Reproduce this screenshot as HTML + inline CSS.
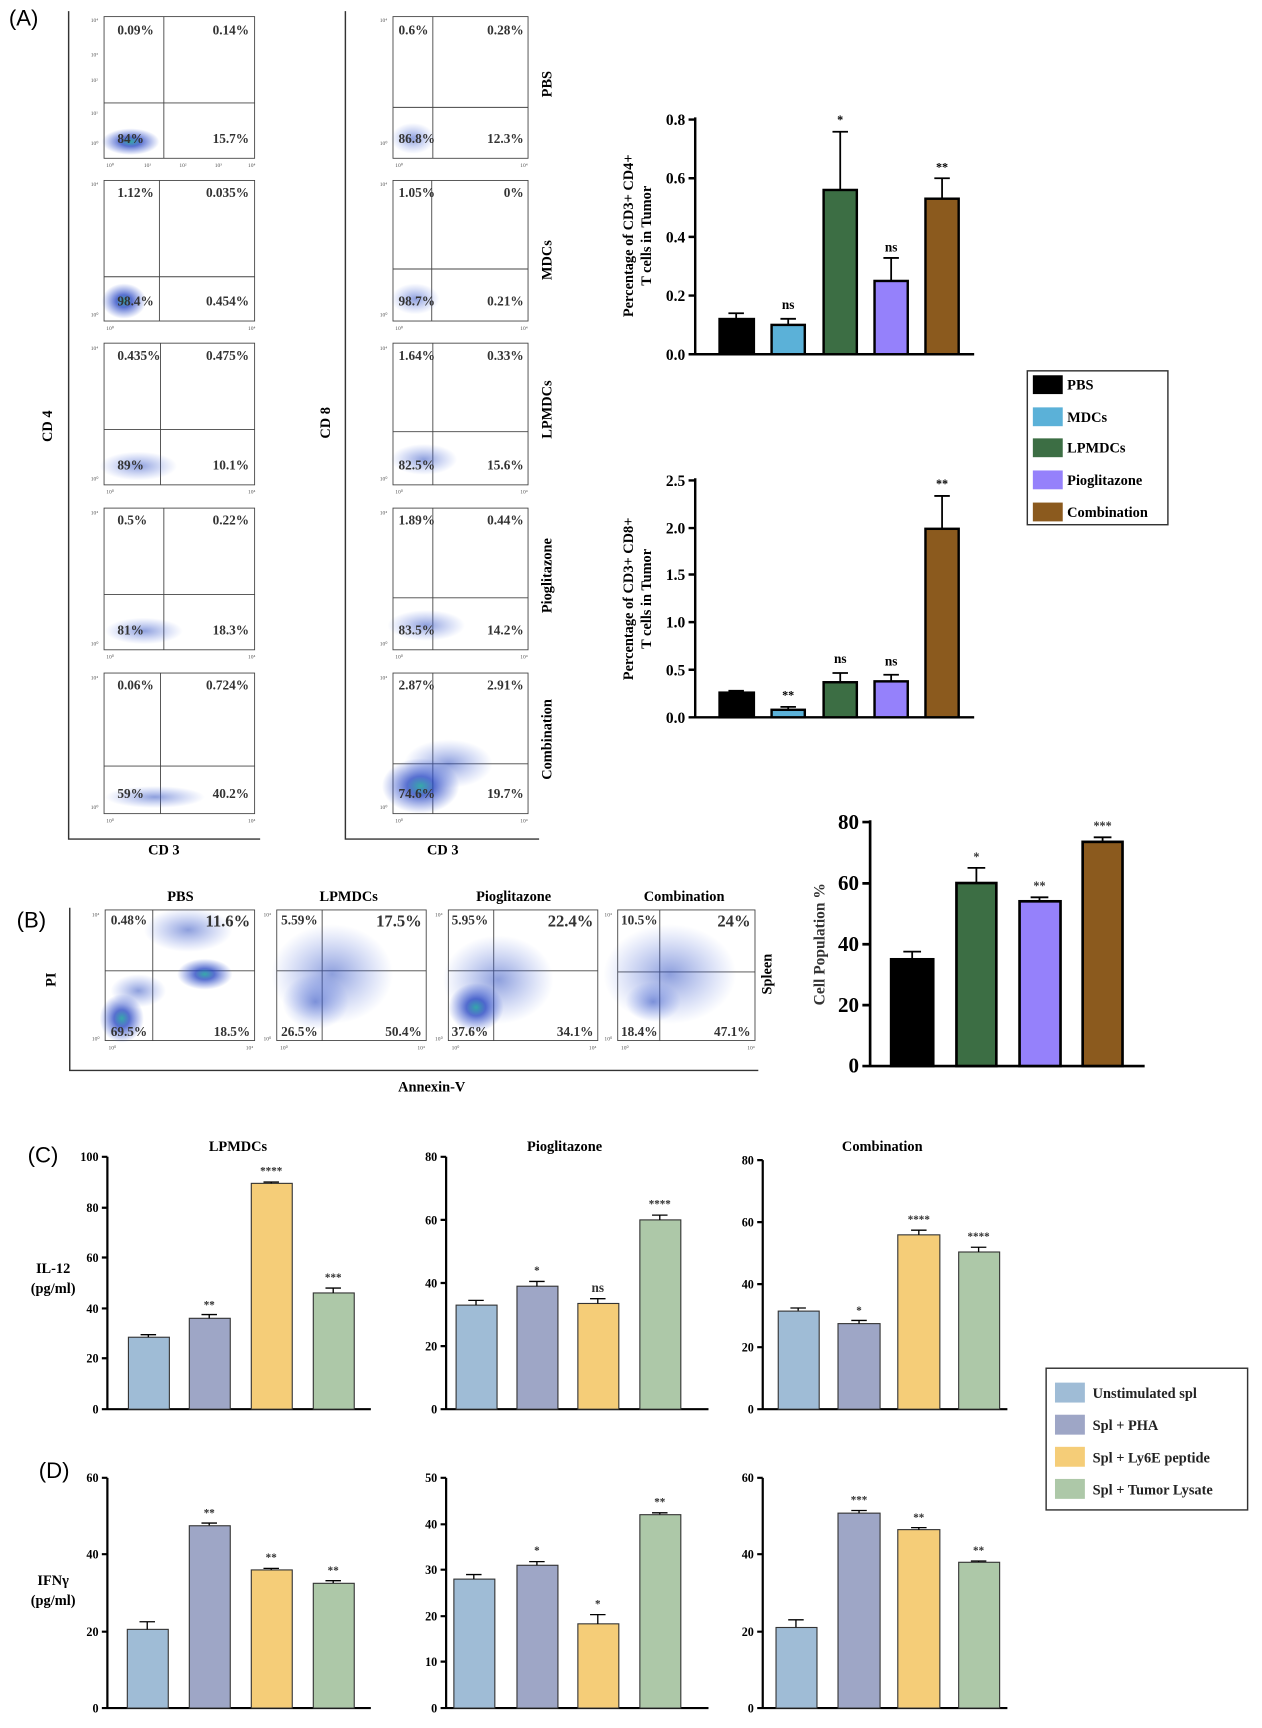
<!DOCTYPE html>
<html><head><meta charset="utf-8"><style>
html,body{margin:0;padding:0;background:#fff;}
svg{display:block;}
.s{font-family:"Liberation Serif",serif;font-weight:bold;}
.a{font-family:"Liberation Sans",sans-serif;}
.q{font-family:"Liberation Serif",serif;font-weight:bold;font-size:12px;fill:#333;}
.t{font-family:"Liberation Serif",serif;font-size:5px;fill:#555;}
</style></head><body>
<svg width="1262" height="1728" viewBox="0 0 1140 1561" preserveAspectRatio="none" xmlns="http://www.w3.org/2000/svg">
<defs>
<radialGradient id="bl"><stop offset="0" stop-color="#20a0a0" stop-opacity="0.9"/><stop offset="0.35" stop-color="#2040c0" stop-opacity="0.75"/><stop offset="1" stop-color="#3050d0" stop-opacity="0"/></radialGradient>
<radialGradient id="bl2"><stop offset="0" stop-color="#3050c0" stop-opacity="0.55"/><stop offset="1" stop-color="#5070e0" stop-opacity="0"/></radialGradient>
</defs>
<rect width="1140" height="1561" fill="#fff"/>
<!-- Panel A -->
<text x="8" y="23" class="a" font-size="20">(A)</text>
<path d="M62 10V758H235M312 10V758H487" stroke="#333" stroke-width="1.3" fill="none"/>
<text class="s" font-size="13" transform="translate(47,385) rotate(-90)" text-anchor="middle">CD 4</text>
<text class="s" font-size="13" transform="translate(298,382) rotate(-90)" text-anchor="middle">CD 8</text>
<text class="s" font-size="13" x="148" y="772" text-anchor="middle">CD 3</text>
<text class="s" font-size="13" x="400" y="772" text-anchor="middle">CD 3</text>
<g class="s" font-size="13" font-weight="bold">
<text transform="translate(498,76) rotate(-90)" text-anchor="middle">PBS</text>
<text transform="translate(498,235) rotate(-90)" text-anchor="middle">MDCs</text>
<text transform="translate(498,370) rotate(-90)" text-anchor="middle">LPMDCs</text>
<text transform="translate(498,520) rotate(-90)" text-anchor="middle">Pioglitazone</text>
<text transform="translate(498,668) rotate(-90)" text-anchor="middle">Combination</text>
</g>
<g fill="none" stroke="#444" stroke-width="0.8">
<rect x="94" y="15" width="136" height="128"/><rect x="94" y="163" width="136" height="127"/><rect x="94" y="310" width="136" height="128"/><rect x="94" y="459" width="136" height="128"/><rect x="94" y="608" width="136" height="127"/>
<rect x="355" y="15" width="122" height="128"/><rect x="355" y="163" width="122" height="127"/><rect x="355" y="310" width="122" height="128"/><rect x="355" y="459" width="122" height="128"/><rect x="355" y="608" width="122" height="127"/>
<path d="M148 15V143M94 93H230M144 163V290M94 250H230M145 310V438M94 388H230M148 459V587M94 537H230M145 608V735M94 692H230"/>
<path d="M391 15V143M355 97H477M390 163V290M355 243H477M391 310V438M355 390H477M391 459V587M355 540H477M391 608V735M355 690H477"/>
<rect x="95" y="822" width="135" height="118"/><rect x="250" y="822" width="135" height="118"/><rect x="405" y="822" width="135" height="118"/><rect x="558" y="822" width="124" height="118"/>
<path d="M138 822V940M95 877H230M291 822V940M250 877H385M446 822V940M405 877H540M596 822V940M558 878H682"/>
</g>
<ellipse cx="118" cy="128" rx="26" ry="12" fill="url(#bl)"/>
<ellipse cx="112" cy="272" rx="20" ry="16" fill="url(#bl)"/>
<ellipse cx="125" cy="421" rx="35" ry="13" fill="url(#bl2)"/>
<ellipse cx="130" cy="570" rx="35" ry="12" fill="url(#bl2)"/>
<ellipse cx="140" cy="720" rx="45" ry="10" fill="url(#bl2)"/>
<ellipse cx="373" cy="125" rx="20" ry="14" fill="url(#bl2)"/>
<ellipse cx="375" cy="270" rx="22" ry="14" fill="url(#bl2)"/>
<ellipse cx="383" cy="415" rx="30" ry="14" fill="url(#bl2)"/>
<ellipse cx="385" cy="565" rx="35" ry="14" fill="url(#bl2)"/>
<ellipse cx="380" cy="710" rx="35" ry="25" fill="url(#bl)"/>
<ellipse cx="405" cy="690" rx="40" ry="22" fill="url(#bl2)"/>
<ellipse cx="110" cy="920" rx="20" ry="22" fill="url(#bl)"/>
<ellipse cx="125" cy="895" rx="25" ry="15" fill="url(#bl2)"/>
<ellipse cx="185" cy="880" rx="25" ry="14" fill="url(#bl)"/>
<ellipse cx="170" cy="840" rx="40" ry="20" fill="url(#bl2)"/>
<ellipse cx="300" cy="880" rx="55" ry="45" fill="url(#bl2)"/>
<ellipse cx="285" cy="905" rx="30" ry="25" fill="url(#bl2)"/>
<ellipse cx="450" cy="885" rx="50" ry="40" fill="url(#bl2)"/>
<ellipse cx="430" cy="910" rx="25" ry="22" fill="url(#bl)"/>
<ellipse cx="605" cy="880" rx="60" ry="45" fill="url(#bl2)"/>
<ellipse cx="590" cy="905" rx="25" ry="18" fill="url(#bl2)"/>
<g class="q">
<text x="106" y="31">0.09%</text><text x="225" y="31" text-anchor="end">0.14%</text><text x="106" y="129">84%</text><text x="225" y="129" text-anchor="end">15.7%</text>
<text x="106" y="178">1.12%</text><text x="225" y="178" text-anchor="end">0.035%</text><text x="106" y="276">98.4%</text><text x="225" y="276" text-anchor="end">0.454%</text>
<text x="106" y="325">0.435%</text><text x="225" y="325" text-anchor="end">0.475%</text><text x="106" y="424">89%</text><text x="225" y="424" text-anchor="end">10.1%</text>
<text x="106" y="474">0.5%</text><text x="225" y="474" text-anchor="end">0.22%</text><text x="106" y="573">81%</text><text x="225" y="573" text-anchor="end">18.3%</text>
<text x="106" y="623">0.06%</text><text x="225" y="623" text-anchor="end">0.724%</text><text x="106" y="721">59%</text><text x="225" y="721" text-anchor="end">40.2%</text>
<text x="360" y="31">0.6%</text><text x="473" y="31" text-anchor="end">0.28%</text><text x="360" y="129">86.8%</text><text x="473" y="129" text-anchor="end">12.3%</text>
<text x="360" y="178">1.05%</text><text x="473" y="178" text-anchor="end">0%</text><text x="360" y="276">98.7%</text><text x="473" y="276" text-anchor="end">0.21%</text>
<text x="360" y="325">1.64%</text><text x="473" y="325" text-anchor="end">0.33%</text><text x="360" y="424">82.5%</text><text x="473" y="424" text-anchor="end">15.6%</text>
<text x="360" y="474">1.89%</text><text x="473" y="474" text-anchor="end">0.44%</text><text x="360" y="573">83.5%</text><text x="473" y="573" text-anchor="end">14.2%</text>
<text x="360" y="623">2.87%</text><text x="473" y="623" text-anchor="end">2.91%</text><text x="360" y="721">74.6%</text><text x="473" y="721" text-anchor="end">19.7%</text>
</g>
<g class="t">
<text x="82" y="20">10⁴</text><text x="82" y="51">10³</text><text x="82" y="74">10²</text><text x="82" y="104">10¹</text><text x="82" y="131">10⁰</text>
<text x="96" y="151">10⁰</text><text x="130" y="151">10¹</text><text x="162" y="151">10²</text><text x="194" y="151">10³</text><text x="224" y="151">10⁴</text>
<text x="343" y="20">10⁴</text><text x="343" y="131">10⁰</text><text x="357" y="151">10⁰</text><text x="470" y="151">10⁴</text>
<text x="82" y="168">10⁴</text><text x="82" y="286">10⁰</text><text x="96" y="298">10⁰</text><text x="224" y="298">10⁴</text>
<text x="82" y="316">10⁴</text><text x="82" y="434">10⁰</text><text x="96" y="446">10⁰</text><text x="224" y="446">10⁴</text>
<text x="82" y="465">10⁴</text><text x="82" y="583">10⁰</text><text x="96" y="595">10⁰</text><text x="224" y="595">10⁴</text>
<text x="82" y="614">10⁴</text><text x="82" y="731">10⁰</text><text x="96" y="743">10⁰</text><text x="224" y="743">10⁴</text>
<text x="343" y="168">10⁴</text><text x="343" y="286">10⁰</text><text x="357" y="298">10⁰</text><text x="470" y="298">10⁴</text>
<text x="343" y="316">10⁴</text><text x="343" y="434">10⁰</text><text x="357" y="446">10⁰</text><text x="470" y="446">10⁴</text>
<text x="343" y="465">10⁴</text><text x="343" y="583">10⁰</text><text x="357" y="595">10⁰</text><text x="470" y="595">10⁴</text>
<text x="343" y="614">10⁴</text><text x="343" y="731">10⁰</text><text x="357" y="743">10⁰</text><text x="470" y="743">10⁴</text>
<text x="83" y="828">10⁴</text><text x="83" y="940">10⁰</text><text x="98" y="948">10⁰</text><text x="222" y="948">10⁴</text>
<text x="238" y="828">10⁴</text><text x="238" y="940">10⁰</text><text x="253" y="948">10⁰</text><text x="377" y="948">10⁴</text>
<text x="393" y="828">10⁴</text><text x="393" y="940">10⁰</text><text x="408" y="948">10⁰</text><text x="532" y="948">10⁴</text>
<text x="546" y="828">10⁴</text><text x="546" y="940">10⁰</text><text x="561" y="948">10⁰</text><text x="675" y="948">10⁴</text>
</g>
<!-- Chart 1 -->
<g stroke="#000" stroke-width="2.2">
<path d="M628 106V320H880M622 320H628M622 267H628M622 214H628M622 161H628M622 108H628" fill="none"/>
<rect x="650" y="288.2" width="31" height="31.8" fill="#000"/>
<rect x="697" y="293.5" width="30" height="26.5" fill="#5bb1d8"/>
<rect x="744" y="171.6" width="30" height="148.4" fill="#3c6e44"/>
<rect x="790" y="253.8" width="30" height="66.2" fill="#9581fb"/>
<rect x="836" y="179.5" width="30" height="140.5" fill="#8b5a1e"/>
<path d="M665 288V283M658 283H672M712 293V288M705 288H719M759 172V119M752 119H766M805 254V233M798 233H812M851 180V161M844 161H858" fill="none" stroke-width="1.6"/>
</g>
<g class="s" font-size="14" text-anchor="end"><text x="619" y="325">0.0</text><text x="619" y="272">0.2</text><text x="619" y="219">0.4</text><text x="619" y="166">0.6</text><text x="619" y="113">0.8</text></g>
<g class="s" font-size="11" text-anchor="middle"><text x="759" y="112">*</text><text x="712" y="279" font-size="12">ns</text><text x="805" y="227" font-size="12">ns</text><text x="851" y="155">**</text></g>
<text class="s" font-size="13" font-weight="normal" transform="translate(572,213) rotate(-90)" text-anchor="middle">Percentage of CD3+ CD4+</text>
<text class="s" font-size="13" font-weight="normal" transform="translate(588,213) rotate(-90)" text-anchor="middle">T cells in Tumor</text>
<rect x="928" y="335" width="127" height="139" fill="none" stroke="#333" stroke-width="1.3"/>
<rect x="933" y="339" width="27" height="17" fill="#000"/><rect x="933" y="368" width="27" height="17" fill="#5bb1d8"/><rect x="933" y="396" width="27" height="17" fill="#3c6e44"/><rect x="933" y="425" width="27" height="17" fill="#9581fb"/><rect x="933" y="454" width="27" height="17" fill="#8b5a1e"/>
<g class="s" font-size="13"><text x="964" y="352">PBS</text><text x="964" y="381">MDCs</text><text x="964" y="409">LPMDCs</text><text x="964" y="438">Pioglitazone</text><text x="964" y="467">Combination</text></g>
<!-- Chart 2 -->
<g stroke="#000" stroke-width="2.2">
<path d="M628 432V648H880M622 648H628M622 605H628M622 562H628M622 519H628M622 477H628M622 434H628" fill="none"/>
<rect x="650" y="625.7" width="31" height="22.3" fill="#000"/>
<rect x="697" y="641.2" width="30" height="6.8" fill="#5bb1d8"/>
<rect x="744" y="616.3" width="30" height="31.7" fill="#3c6e44"/>
<rect x="790" y="615.5" width="30" height="32.5" fill="#9581fb"/>
<rect x="836" y="477.7" width="30" height="170.3" fill="#8b5a1e"/>
<path d="M665 626V624M658 624H672M712 641V638.6M705 638.6H719M759 616V608M752 608H766M805 615V609.5M798 609.5H812M851 478V448M844 448H858" fill="none" stroke-width="1.6"/>
</g>
<g class="s" font-size="14" text-anchor="end"><text x="619" y="653">0.0</text><text x="619" y="610">0.5</text><text x="619" y="567">1.0</text><text x="619" y="524">1.5</text><text x="619" y="482">2.0</text><text x="619" y="439">2.5</text></g>
<g class="s" font-size="11" text-anchor="middle"><text x="712" y="632">**</text><text x="759" y="599" font-size="12">ns</text><text x="805" y="601" font-size="12">ns</text><text x="851" y="441">**</text></g>
<text class="s" font-size="13" font-weight="normal" transform="translate(572,541) rotate(-90)" text-anchor="middle">Percentage of CD3+ CD8+</text>
<text class="s" font-size="13" font-weight="normal" transform="translate(588,541) rotate(-90)" text-anchor="middle">T cells in Tumor</text>
<!-- Panel B -->
<text x="15" y="838" class="a" font-size="20">(B)</text>
<path d="M63 820V967H685" stroke="#333" stroke-width="1.3" fill="none"/>
<text class="s" font-size="13" transform="translate(50,885) rotate(-90)" text-anchor="middle">PI</text>
<text class="s" font-size="13" x="390" y="986" text-anchor="middle">Annexin-V</text>
<text class="s" font-size="13" transform="translate(697,880) rotate(-90)" text-anchor="middle">Spleen</text>
<g class="s" font-size="13" text-anchor="middle"><text x="163" y="814">PBS</text><text x="315" y="814">LPMDCs</text><text x="464" y="814">Pioglitazone</text><text x="618" y="814">Combination</text></g>
<g class="q">
<text x="100" y="835">0.48%</text><text x="226" y="837" text-anchor="end" font-size="15">11.6%</text><text x="100" y="936">69.5%</text><text x="226" y="936" text-anchor="end">18.5%</text>
<text x="254" y="835">5.59%</text><text x="381" y="837" text-anchor="end" font-size="15">17.5%</text><text x="254" y="936">26.5%</text><text x="381" y="936" text-anchor="end">50.4%</text>
<text x="408" y="835">5.95%</text><text x="536" y="837" text-anchor="end" font-size="15">22.4%</text><text x="408" y="936">37.6%</text><text x="536" y="936" text-anchor="end">34.1%</text>
<text x="561" y="835">10.5%</text><text x="678" y="837" text-anchor="end" font-size="15">24%</text><text x="561" y="936">18.4%</text><text x="678" y="936" text-anchor="end">47.1%</text>
</g>
<!-- Chart 3 -->
<g stroke="#000" stroke-width="2.4">
<path d="M786 741V963H1034M779 963H786M779 908H786M779 853H786M779 798H786M779 742.6H786" fill="none"/>
<rect x="805" y="866.6" width="38" height="96.4" fill="#000"/>
<rect x="864" y="797.7" width="36" height="165.3" fill="#3c6e44"/>
<rect x="921" y="814.2" width="37" height="148.8" fill="#9581fb"/>
<rect x="978" y="760.5" width="36" height="202.5" fill="#8b5a1e"/>
<path d="M824 867V859.7M816 859.7H832M882 798V784M874 784H890M939 814V810.6M931 810.6H947M996 760V756.4M988 756.4H1004" fill="none" stroke-width="1.6"/>
</g>
<g class="s" font-size="19" text-anchor="end"><text x="776" y="969">0</text><text x="776" y="914">20</text><text x="776" y="859">40</text><text x="776" y="804">60</text><text x="776" y="749">80</text></g>
<g class="s" font-size="11" text-anchor="middle" font-weight="normal" fill="#333"><text x="882" y="778">*</text><text x="939" y="804">**</text><text x="996" y="750">***</text></g>
<text class="s" font-size="14" transform="translate(745,853) rotate(-90)" text-anchor="middle" fill="#333">Cell Population %</text>
<!-- Panel C/D -->
<text x="25" y="1050" class="a" font-size="20">(C)</text>
<text x="35" y="1335" class="a" font-size="20">(D)</text>
<g class="s" font-size="13" text-anchor="middle"><text x="215" y="1040">LPMDCs</text><text x="510" y="1040">Pioglitazone</text><text x="797" y="1040">Combination</text></g>
<g class="s" font-size="13" text-anchor="middle"><text x="48" y="1150">IL-12</text><text x="48" y="1168">(pg/ml)</text><text x="48" y="1432">IFNγ</text><text x="48" y="1450">(pg/ml)</text></g>
<g stroke="#000" stroke-width="2">
<path d="M97 1045V1273H335M92 1273H97M92 1227H97M92 1182H97M92 1136H97M92 1091H97M92 1045H97" fill="none"/>
<path d="M403 1045V1273H640M398 1273H403M398 1216H403M398 1159H403M398 1102H403M398 1045H403" fill="none"/>
<path d="M689 1048V1273H910M684 1273H689M684 1217H689M684 1160H689M684 1104H689M684 1048H689" fill="none"/>
<path d="M97 1335V1543H335M92 1543H97M92 1474H97M92 1404H97M92 1335H97" fill="none"/>
<path d="M403 1335V1543H640M398 1543H403M398 1501H403M398 1460H403M398 1418H403M398 1377H403M398 1335H403" fill="none"/>
<path d="M689 1335V1543H910M684 1543H689M684 1474H689M684 1404H689M684 1335H689" fill="none"/>
</g>
<g stroke="#333" stroke-width="1">
<rect x="116" y="1208" width="37" height="65" fill="#9fbcd6"/><rect x="171" y="1190.9" width="37" height="82.1" fill="#9ea6c6"/><rect x="227" y="1069" width="37" height="204" fill="#f5cd78"/><rect x="283" y="1168" width="37" height="105" fill="#adc8a8"/>
<rect x="412" y="1179" width="37" height="94" fill="#9fbcd6"/><rect x="467" y="1161.9" width="37" height="111.1" fill="#9ea6c6"/><rect x="522" y="1177.5" width="37" height="95.5" fill="#f5cd78"/><rect x="578" y="1102" width="37" height="171" fill="#adc8a8"/>
<rect x="703" y="1184.4" width="37" height="88.6" fill="#9fbcd6"/><rect x="757" y="1195.7" width="38" height="77.3" fill="#9ea6c6"/><rect x="811" y="1115.5" width="38" height="157.5" fill="#f5cd78"/><rect x="866" y="1131" width="37" height="142" fill="#adc8a8"/>
<rect x="115" y="1471.9" width="37" height="71.1" fill="#9fbcd6"/><rect x="171" y="1378.3" width="37" height="164.7" fill="#9ea6c6"/><rect x="227" y="1418.2" width="37" height="124.8" fill="#f5cd78"/><rect x="283" y="1430.3" width="37" height="112.7" fill="#adc8a8"/>
<rect x="410" y="1426.5" width="37" height="116.5" fill="#9fbcd6"/><rect x="467" y="1414" width="37" height="129" fill="#9ea6c6"/><rect x="522" y="1466.9" width="37" height="76.1" fill="#f5cd78"/><rect x="578" y="1368.3" width="37" height="174.7" fill="#adc8a8"/>
<rect x="701" y="1470.2" width="37" height="72.8" fill="#9fbcd6"/><rect x="757" y="1366.9" width="38" height="176.1" fill="#9ea6c6"/><rect x="811" y="1381.8" width="38" height="161.2" fill="#f5cd78"/><rect x="866" y="1411.3" width="37" height="131.7" fill="#adc8a8"/>
</g>
<g stroke="#000" stroke-width="1.2" fill="none">
<path d="M134 1208V1205.7M127 1205.7H141M189 1191V1187.5M182 1187.5H196M245 1069V1067.8M238 1067.8H252M301 1168V1163.6M294 1163.6H308"/>
<path d="M430 1179V1174.7M423 1174.7H437M485 1162V1157.6M478 1157.6H492M540 1177.5V1173.2M533 1173.2H547M596 1102V1097.7M589 1097.7H603"/>
<path d="M721 1184V1181.6M714 1181.6H728M776 1195.7V1192.8M769 1192.8H783M830 1115.5V1111.3M823 1111.3H837M884 1131V1126.7M877 1126.7H891"/>
<path d="M133 1472V1465M126 1465H140M189 1378V1375.9M182 1375.9H196M245 1418V1416.8M238 1416.8H252M301 1430V1427.9M294 1427.9H308"/>
<path d="M428 1426.5V1422.4M421 1422.4H435M485 1414V1410.7M478 1410.7H492M540 1467V1458.6M533 1458.6H547M596 1368V1366.6M589 1366.6H603"/>
<path d="M719 1470V1463.3M712 1463.3H726M776 1367V1364.5M769 1364.5H783M830 1382V1380M823 1380H837M884 1411V1410.2M877 1410.2H891"/>
</g>
<g class="s" font-size="11" text-anchor="end" font-weight="bold">
<text x="89" y="1277">0</text><text x="89" y="1231">20</text><text x="89" y="1186">40</text><text x="89" y="1140">60</text><text x="89" y="1095">80</text><text x="89" y="1049">100</text>
<text x="395" y="1277">0</text><text x="395" y="1220">20</text><text x="395" y="1163">40</text><text x="395" y="1106">60</text><text x="395" y="1049">80</text>
<text x="681" y="1277">0</text><text x="681" y="1221">20</text><text x="681" y="1164">40</text><text x="681" y="1108">60</text><text x="681" y="1052">80</text>
<text x="89" y="1547">0</text><text x="89" y="1478">20</text><text x="89" y="1408">40</text><text x="89" y="1339">60</text>
<text x="395" y="1547">0</text><text x="395" y="1505">10</text><text x="395" y="1464">20</text><text x="395" y="1422">30</text><text x="395" y="1381">40</text><text x="395" y="1339">50</text>
<text x="681" y="1547">0</text><text x="681" y="1478">20</text><text x="681" y="1408">40</text><text x="681" y="1339">60</text>
</g>
<g class="s" font-size="10" text-anchor="middle" fill="#333" font-weight="normal">
<text x="189" y="1182">**</text><text x="245" y="1061">****</text><text x="301" y="1157">***</text>
<text x="485" y="1151">*</text><text x="540" y="1167" font-size="12">ns</text><text x="596" y="1091">****</text>
<text x="776" y="1187">*</text><text x="830" y="1105">****</text><text x="884" y="1120">****</text>
<text x="189" y="1370">**</text><text x="245" y="1410">**</text><text x="301" y="1422">**</text>
<text x="485" y="1404">*</text><text x="540" y="1452">*</text><text x="596" y="1360">**</text>
<text x="776" y="1358">***</text><text x="830" y="1374">**</text><text x="884" y="1404">**</text>
</g>
<rect x="945" y="1236" width="182" height="128" fill="none" stroke="#333" stroke-width="1.3"/>
<rect x="953" y="1249" width="27" height="18" fill="#9fbcd6"/><rect x="953" y="1278" width="27" height="18" fill="#9ea6c6"/><rect x="953" y="1307" width="27" height="18" fill="#f5cd78"/><rect x="953" y="1336" width="27" height="18" fill="#adc8a8"/>
<g class="s" font-size="13" fill="#222"><text x="987" y="1263">Unstimulated spl</text><text x="987" y="1292">Spl + PHA</text><text x="987" y="1321">Spl + Ly6E peptide</text><text x="987" y="1350">Spl + Tumor Lysate</text></g>
</svg>
</body></html>
